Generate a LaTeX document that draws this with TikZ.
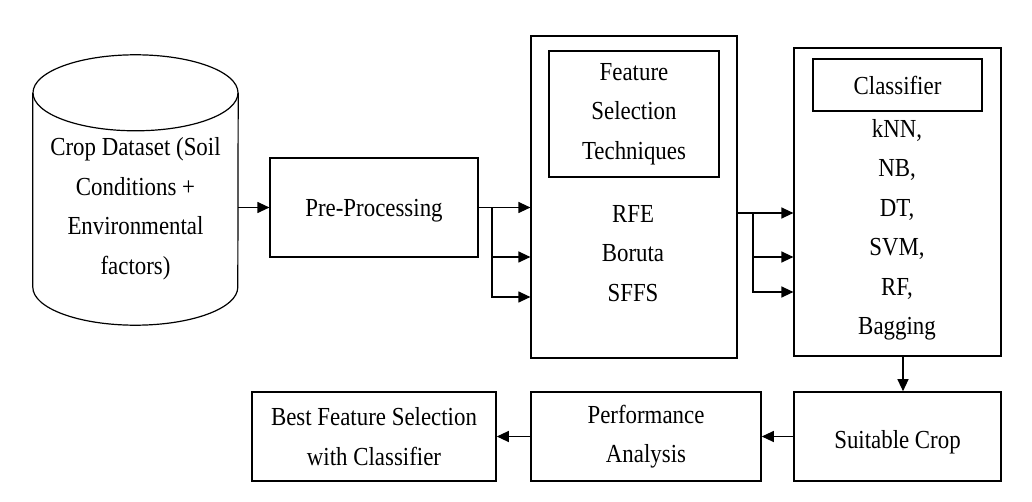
\documentclass[tikz,border=0pt]{standalone}
\usepackage{fontspec}
\setmainfont[FakeStretch=0.88]{Liberation Serif}
\usetikzlibrary{shapes.geometric, arrows.meta, positioning, calc}

\begin{document}
\begin{tikzpicture}[
    x=1pt, y=-1pt,
    every node/.style={font=\fontsize{26}{39.5}\selectfont, align=center, inner sep=0pt},
    block/.style={rectangle, draw, line width=1.2pt},
    lowblock/.style={rectangle, draw, line width=1.6pt, minimum height=89pt},
    arr/.style={-{Triangle[length=12pt,width=11pt]}, line width=1.2pt}
]
\useasboundingbox (0,0) rectangle (1032,502);

\node[minimum width=205pt, minimum height=194pt] (data) at (135.5,190) {};
\draw[line width=1.2pt] (data.north) ellipse [x radius=102.5pt, y radius=38pt];
\draw[line width=1.2pt] (data.north west) -- (data.south west)
    arc[start angle=180, end angle=360, x radius=102.5pt, y radius=38pt] -- (data.north east);
\node (datatxt) at (135.5,208.5) {Crop Dataset (Soil\\ Conditions +\\ Environmental\\ factors)};

\node[block, minimum width=208pt, minimum height=99pt, text height=24.5pt] (pre) at (374,207.5) {Pre-Processing};

\node[block, minimum width=206pt, minimum height=322pt] (fs) at (634,197) {};
\node[block, minimum width=170pt, minimum height=126pt] (fshead) at (634,114) {Feature\\ Selection\\ Techniques};
\node (fslist) at (633,253.5) {RFE\\ Boruta\\ SFFS};

\node[block, minimum width=207pt, minimum height=308pt] (cl) at (897.5,202) {};
\node[block, line width=2.4pt, minimum width=169pt, minimum height=52pt] (clhead) at (897.5,85) {Classifier};
\node (cllist) at (897,230) {kNN,\\ NB,\\ DT,\\ SVM,\\ RF,\\ Bagging};

\node[lowblock, minimum width=207pt, text height=30pt] (crop) at (897.5,436.5) {Suitable Crop};
\node[lowblock, minimum width=230pt] (perf) at (646,436.5) {Performance\\ Analysis};
\node[lowblock, minimum width=244pt] (best) at (374,436.5) {Best Feature Selection\\ with Classifier};

\draw[arr] (data.east |- pre.west) -- (pre.west);

\coordinate (fj) at (492,207.5);
\draw[line width=1.2pt] (pre.east) -- (fj);
\foreach \yy in {207.5,257,297}
    \draw[arr] (fj) |- (fs.west |- 0,\yy);

\coordinate (cj) at (753,213);
\draw[line width=1.2pt] (fs.east |- cj) -- (cj);
\foreach \yy in {213,257,292}
    \draw[arr] (cj) |- (cl.west |- 0,\yy);

\draw[arr] ([xshift=5.5pt]cl.south) -- ([xshift=5.5pt]crop.north);
\draw[arr] (crop.west) -- (perf.east);
\draw[arr] (perf.west) -- (best.east);
\end{tikzpicture}
\end{document}
